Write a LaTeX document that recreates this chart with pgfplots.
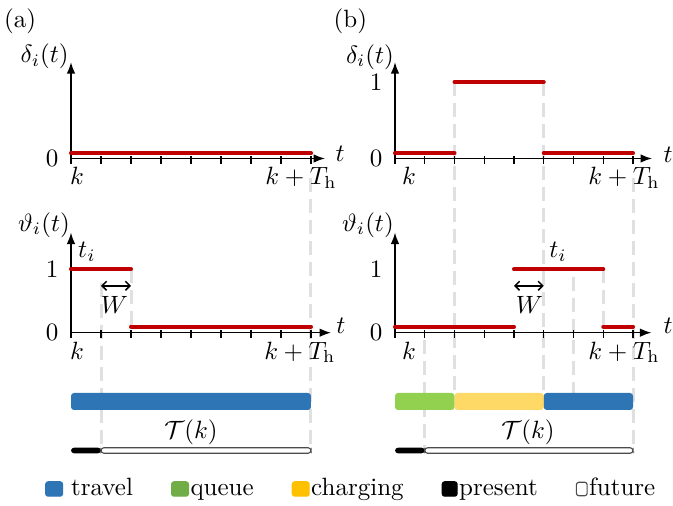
\documentclass[border=0pt]{standalone}
\usepackage{pgfplots}
\pgfplotsset{compat=1.18}
\usetikzlibrary{arrows.meta}
\definecolor{myred}{HTML}{C00000}
\definecolor{myblue}{HTML}{2E75B6}
\definecolor{mygreen}{HTML}{92D050}
\definecolor{myyellow}{HTML}{FFD966}
\definecolor{leggreen}{HTML}{70AD47}
\definecolor{legyellow}{HTML}{FFC000}
\definecolor{dashgray}{HTML}{E0E0E0}
\pgfplotsset{
  panel/.style={
    axis lines=left, clip=false, anchor=south west,
    xmin=0, ymin=0,
    axis line style={line width=0.6pt, -{Latex[length=4.6pt,width=3.4pt]}},
    xtick={0,...,8}, xticklabels={},
    xtick style={line width=0.5pt, black, yshift=-0.6pt},
    ytick style={draw=none},
    tick align=center, major tick length=3pt,
  },
  redline/.style={myred, line width=1.6pt, line cap=round, forget plot},
  ovl/.style={hide axis, clip=false, anchor=south west, xmin=0, xmax=8.5, ymin=0, ymax=506, y=0.4pt},
  dashline/.style={dashgray, line width=1.2pt, dash pattern=on 5.6pt off 2.8pt, forget plot},
  bar/.style={draw=none, rounded corners=1.2pt, forget plot},
  presentimg/.style={legend image code/.code={\fill[black, rounded corners=1pt] (0pt,-2.9pt) rectangle (6.0pt,2.9pt);}},
  futureimg/.style={legend image code/.code={\filldraw[fill=white, draw=gray!60!black, line width=0.45pt, rounded corners=1pt] (0.3pt,-2.7pt) rectangle (4.6pt,2.7pt);}},
}
\begin{document}
\begin{tikzpicture}
\useasboundingbox (0,0) rectangle (269.2pt,202.4pt);
% ---------- overlay (a): guides, bars, legend ----------
\begin{axis}[ovl, x=12pt, at={(28.4pt,0pt)},
  legend columns=5,
  legend cell align=left,
  legend style={draw=none, fill=none, at={(1.098,0.0336)}, anchor=center,
    inner sep=0pt, column sep=0pt,
    nodes={inner sep=0.6pt, text height=7pt, text depth=2pt},
    /tikz/every even column/.append style={column sep=14.6pt}},
  legend image code/.code={\fill[#1, rounded corners=1pt] (0pt,-2.9pt) rectangle (6.8pt,2.9pt);},
]
\addplot[dashline] coordinates {(1,223)(1,53)};
\addplot[dashline] coordinates {(2,237)(2,174)};
\addplot[dashline] coordinates {(8,328)(8,53)};
\addplot[bar, fill=myblue] coordinates {(0,96)(8,96)(8,113)(0,113)} -- cycle;
\addplot[bar, fill=black] coordinates {(0,52.7)(1,52.7)(1,58.3)(0,58.3)} -- cycle;
\addplot[fill=white, draw=gray!60!black, line width=0.45pt, rounded corners=1.2pt, forget plot] coordinates {(1,52.7)(8,52.7)(8,58.3)(1,58.3)} -- cycle;
\node at (axis cs:4.0,74) {$\mathcal{T}(k)$};
\node at (axis cs:-1.7,485) {(a)};
\addlegendimage{myblue}
\addlegendentry{\hspace{2.6pt}travel}
\addlegendimage{leggreen}
\addlegendentry{queue}
\addlegendimage{legyellow}
\addlegendentry{charging}
\addlegendimage{presentimg}
\addlegendentry{present}
\addlegendimage{futureimg}
\addlegendentry{future}
\end{axis}
% ---------- overlay (b) ----------
\begin{axis}[ovl, x=11.9pt, at={(158pt,0pt)}]
\addplot[dashline] coordinates {(1,166)(1,53)};
\addplot[dashline] coordinates {(2,424)(2,113)};
\addplot[dashline] coordinates {(5,424)(5,113)};
\addplot[dashline] coordinates {(6,229)(6,113)};
\addplot[dashline] coordinates {(7,237)(7,174)};
\addplot[dashline] coordinates {(8,328)(8,53)};
\addplot[bar, fill=mygreen] coordinates {(0,96)(2,96)(2,113)(0,113)} -- cycle;
\addplot[bar, fill=myyellow] coordinates {(2,96)(5,96)(5,113)(2,113)} -- cycle;
\addplot[bar, fill=myblue] coordinates {(5,96)(8,96)(8,113)(5,113)} -- cycle;
\addplot[bar, fill=black] coordinates {(0,52.7)(1,52.7)(1,58.3)(0,58.3)} -- cycle;
\addplot[fill=white, draw=gray!60!black, line width=0.45pt, rounded corners=1.2pt, forget plot] coordinates {(1,52.7)(8,52.7)(8,58.3)(1,58.3)} -- cycle;
\node at (axis cs:4.47,74) {$\mathcal{T}(k)$};
\node at (axis cs:-1.5,485) {(b)};
\end{axis}
% ---------- upper (a) ----------
\begin{axis}[panel, x=12pt, y=30.6pt, xmax=8.47, ymax=1.26, at={(28.4pt,139pt)}, ytick={0}]
\addplot[redline, yshift=2.1pt] coordinates {(0,0)(8,0)};
\node at (axis cs:-0.88,1.333) {$\delta_i(t)$};
\node at (axis cs:8.97,0.06) {$t$};
\node[anchor=base] at (axis cs:0.2,-0.346) {$k$};
\node[anchor=base] at (axis cs:7.67,-0.346) {$k+T_{\mathrm{h}}$};
\end{axis}
% ---------- upper (b) ----------
\begin{axis}[panel, x=11.9pt, y=30.6pt, xmax=8.64, ymax=1.26, at={(158pt,139pt)}, ytick={0,1}]
\addplot[redline, yshift=2.1pt] coordinates {(0,0)(2,0)};
\addplot[redline] coordinates {(2,1)(5,1)};
\addplot[redline, yshift=2.1pt] coordinates {(5,0)(8,0)};
\node at (axis cs:-0.84,1.327) {$\delta_i(t)$};
\node at (axis cs:9.18,0.046) {$t$};
\node[anchor=base] at (axis cs:0.47,-0.346) {$k$};
\node[anchor=base] at (axis cs:7.70,-0.346) {$k+T_{\mathrm{h}}$};
\end{axis}
% ---------- lower (a) ----------
\begin{axis}[panel, x=12pt, y=25.36pt, xmax=8.67, ymax=1.58, at={(28.4pt,69.32pt)}, ytick={0,1}]
\addplot[redline] coordinates {(0,1)(2,1)};
\addplot[redline, yshift=2.4pt] coordinates {(2,0)(8,0)};
\addplot[black, line width=0.6pt, {Straight Barb[length=1.8pt]}-{Straight Barb[length=1.8pt]}, forget plot] coordinates {(1,0.74)(2,0.74)};
\node at (axis cs:1.45,0.437) {$W$};
\node at (axis cs:0.53,1.27) {$t_i$};
\node at (axis cs:-0.9,1.70) {$\vartheta_i(t)$};
\node at (axis cs:9.0,0.106) {$t$};
\node[anchor=base] at (axis cs:0.2,-0.418) {$k$};
\node[anchor=base] at (axis cs:7.63,-0.418) {$k+T_{\mathrm{h}}$};
\end{axis}
% ---------- lower (b) ----------
\begin{axis}[panel, x=11.9pt, y=25.36pt, xmax=8.62, ymax=1.58, at={(158pt,69.32pt)}, ytick={0,1}]
\addplot[redline, yshift=2.4pt] coordinates {(0,0)(4,0)};
\addplot[redline] coordinates {(4,1)(7,1)};
\addplot[redline, yshift=2.4pt] coordinates {(7,0)(8,0)};
\addplot[black, line width=0.6pt, {Straight Barb[length=1.8pt]}-{Straight Barb[length=1.8pt]}, forget plot] coordinates {(4,0.74)(5,0.74)};
\node at (axis cs:4.52,0.437) {$W$};
\node at (axis cs:5.48,1.27) {$t_i$};
\node at (axis cs:-0.91,1.70) {$\vartheta_i(t)$};
\node at (axis cs:9.18,0.106) {$t$};
\node[anchor=base] at (axis cs:0.47,-0.418) {$k$};
\node[anchor=base] at (axis cs:7.70,-0.418) {$k+T_{\mathrm{h}}$};
\end{axis}
\end{tikzpicture}
\end{document}
